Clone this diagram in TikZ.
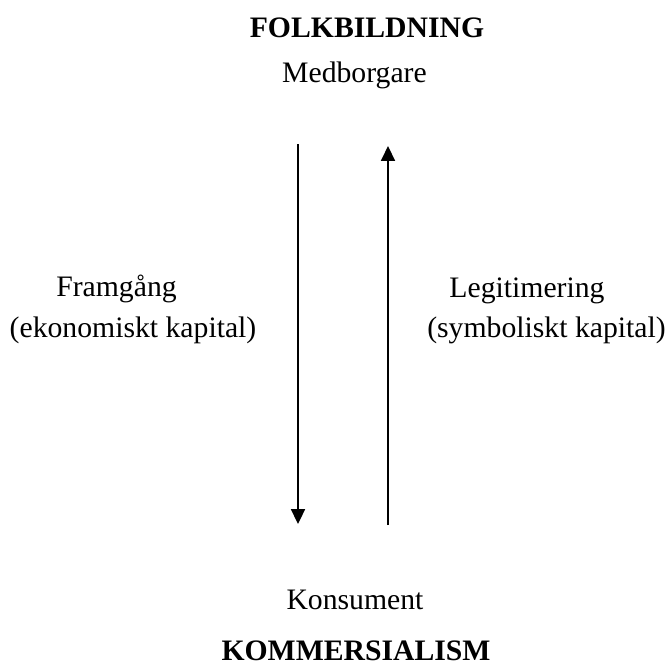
\documentclass[tikz,border=0pt]{standalone}
\usepackage{fontspec}
\setmainfont{Liberation Serif}
\usepackage{tikz}
\usetikzlibrary{positioning, arrows.meta}

\begin{document}
\begin{tikzpicture}[x=0.404pt, y=-0.404pt, every node/.style={font=\fontsize{12}{14}\selectfont, inner sep=0pt, anchor=base},
    flow/.style={line width=0.85pt, -{Triangle[length=6pt, width=5.6pt]}}]
    \useasboundingbox (0,0) rectangle (670,663);

    % Poles
    \node (folk) at (367,37) {\textbf{FOLKBILDNING}};
    \node (medb) at (354.5,82) {Medborgare};
    \node (kons) at (355,609) {Konsument};
    \node (komm) at (356,660) {\textbf{KOMMERSIALISM}};

    % Side labels
    \node (fram) at (116.5,296) {Framgång};
    \node (ekon) at (133,337) {(ekonomiskt kapital)};
    \node (legi) at (527,297) {Legitimering};
    \node (symb) at (546.5,337) {(symboliskt kapital)};

    \coordinate (downtop) at (298,144);
    \coordinate (downbot) at (298,524);
    \coordinate (upbot) at (388,525);
    \coordinate (uptop) at (388,146);

    \draw[flow] (downtop) -- (downbot);
    \draw[flow] (upbot) -- (uptop);
\end{tikzpicture}
\end{document}
